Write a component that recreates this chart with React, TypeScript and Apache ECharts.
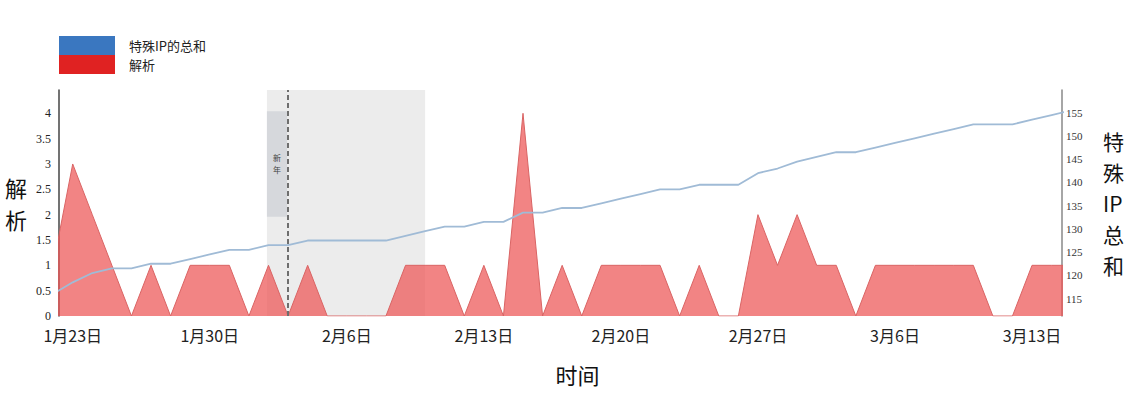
import React, { useEffect, useRef } from "react";
import * as echarts from "echarts";

// Categories: one per day, 1月22日 … 3月15日
const dates = [
  "1月22日", "1月23日", "1月24日", "1月25日", "1月26日", "1月27日", "1月28日", "1月29日", "1月30日", "1月31日",
  "2月1日", "2月2日", "2月3日", "2月4日", "2月5日", "2月6日", "2月7日", "2月8日", "2月9日", "2月10日",
  "2月11日", "2月12日", "2月13日", "2月14日", "2月15日", "2月16日", "2月17日", "2月18日", "2月19日", "2月20日",
  "2月21日", "2月22日", "2月23日", "2月24日", "2月25日", "2月26日", "2月27日", "2月28日", "3月1日", "3月2日",
  "3月3日", "3月4日", "3月5日", "3月6日", "3月7日", "3月8日", "3月9日", "3月10日", "3月11日", "3月12日",
  "3月13日", "3月14日", "3月15日",
];

// 解析 (left axis)
const parseCounts = [
  1, 3, 2, 1, 0, 1, 0, 1, 1, 1,
  0, 1, 0, 1, 0, 0, 0, 0, 1, 1,
  1, 0, 1, 0, 4, 0, 1, 0, 1, 1,
  1, 1, 0, 1, 0, 0, 2, 1, 2, 1,
  1, 0, 1, 1, 1, 1, 1, 1, 0, 0,
  1, 1, 1,
];

// 特殊IP的总和 (right axis)
const ipTotals = [
  116, 118.5, 120.5, 121.5, 121.5, 122.5, 122.5, 123.5, 124.5, 125.5,
  125.5, 126.5, 126.5, 127.5, 127.5, 127.5, 127.5, 127.5, 128.5, 129.5,
  130.5, 130.5, 131.5, 131.5, 133.5, 133.5, 134.5, 134.5, 135.5, 136.5,
  137.5, 138.5, 138.5, 139.5, 139.5, 139.5, 142, 143, 144.5, 145.5,
  146.5, 146.5, 147.5, 148.5, 149.5, 150.5, 151.5, 152.5, 152.5, 152.5,
  153.5, 154.5, 155.5,
];

// Tick labels
const xTickLabels = ["1月23日", "1月30日", "2月6日", "2月13日", "2月20日", "2月27日", "3月6日", "3月13日"];
const leftTicks = [0, 0.5, 1, 1.5, 2, 2.5, 3, 3.5, 4];
const rightTicks = [115, 120, 125, 130, 135, 140, 145, 150, 155];

// New-year period (x in day-index units)
const holidayBand = [10.92, 19];
const holidayLabelBox = [10.92, 11.95, 1.96, 4.04];
const newYearLine = 12;

const SERIF = "'Liberation Serif', 'DejaVu Serif', serif";
const SANS = "'Noto Sans CJK SC', 'Noto Sans', sans-serif";

export default function App() {
  const ref = useRef<HTMLDivElement>(null);

  useEffect(() => {
    if (!ref.current) return;
    const chart = echarts.init(ref.current, null, { renderer: "svg" });
    const xTickIdx = xTickLabels.map((l) => dates.indexOf(l));
    const redData = parseCounts.map((v, i) => [i, v]);
    const blueData = ipTotals.map((v, i) => [i, v]);

    const option: any = {
      animation: false,
      backgroundColor: "#ffffff",
      grid: { left: 59, right: 86, top: 90, bottom: 93, containLabel: false },
      legend: {
        left: 59,
        top: 36,
        orient: "vertical",
        icon: "rect",
        itemWidth: 56,
        itemHeight: 19,
        itemGap: 0,
        padding: 0,
        selectedMode: false,
        textStyle: { fontSize: 13, color: "#222", fontFamily: SANS, padding: [0, 0, 0, 9] },
        data: [
          { name: "特殊IP的总和", itemStyle: { color: "#3a77c0" } },
          { name: "解析", itemStyle: { color: "#e02222" } },
        ],
      },
      xAxis: {
        type: "value",
        min: 0.3,
        max: 51.53,
        axisLine: { show: false },
        axisTick: { show: false },
        splitLine: { show: false },
        axisLabel: {
          customValues: xTickIdx,
          formatter: (v: number) => dates[Math.round(v)],
          fontSize: 16,
          color: "#222",
          fontFamily: SANS,
          margin: 11,
        },
        name: "时间",
        nameLocation: "middle",
        nameGap: 47,
        nameTextStyle: { fontSize: 22, color: "#111", fontFamily: SANS, padding: [0, 0, 0, 34] },
      },
      yAxis: [
        {
          type: "value",
          position: "left",
          min: 0,
          max: 4.46,
          axisLine: { show: true, lineStyle: { color: "#444", width: 1.5 } },
          axisTick: { show: false },
          splitLine: { show: false },
          axisLabel: {
            customValues: leftTicks,
            fontSize: 12,
            color: "#222",
            fontFamily: SERIF,
            margin: 8,
          },
          name: "解\n析",
          nameLocation: "middle",
          nameRotate: 0,
          nameGap: 32,
          nameTextStyle: { fontSize: 22, lineHeight: 32, color: "#111", fontFamily: SANS },
        },
        {
          type: "value",
          position: "right",
          min: 111.25,
          max: 159.9,
          axisLine: { show: true, lineStyle: { color: "#888", width: 1.5 } },
          axisTick: { show: false },
          splitLine: { show: false },
          axisLabel: {
            customValues: rightTicks,
            fontSize: 11,
            color: "#333",
            fontFamily: SERIF,
            margin: 4,
          },
          name: "特\n殊\nIP\n总\n和",
          nameLocation: "middle",
          nameRotate: 0,
          nameGap: 41,
          nameTextStyle: { fontSize: 21, lineHeight: 31, color: "#111", fontFamily: SANS },
        },
      ],
      series: [
        {
          name: "新年",
          type: "line",
          yAxisIndex: 0,
          data: redData,
          showSymbol: false,
          symbol: "none",
          lineStyle: { opacity: 0 },
          silent: true,
          z: 1,
          markArea: {
            silent: true,
            data: [
              [
                { xAxis: holidayBand[0], itemStyle: { color: "#ececec" } },
                { xAxis: holidayBand[1] },
              ],
              [
                {
                  xAxis: holidayLabelBox[0],
                  yAxis: holidayLabelBox[2],
                  itemStyle: { color: "#d6d8dc" },
                  label: {
                    show: true,
                    position: "inside",
                    rotate: 0,
                    formatter: "新\n年",
                    fontSize: 8,
                    lineHeight: 12,
                    color: "#444",
                    fontFamily: SANS,
                  },
                },
                { xAxis: holidayLabelBox[1], yAxis: holidayLabelBox[3] },
              ],
            ],
          },
        },
        {
          name: "解析",
          type: "line",
          yAxisIndex: 0,
          data: redData,
          showSymbol: false,
          symbol: "none",
          z: 2,
          itemStyle: { color: "#e02222" },
          lineStyle: { color: "#d96464", width: 1 },
          areaStyle: { color: "rgba(237, 85, 85, 0.72)", opacity: 1 },
        },
        {
          name: "特殊IP的总和",
          type: "line",
          yAxisIndex: 1,
          data: blueData,
          showSymbol: false,
          symbol: "none",
          z: 3,
          itemStyle: { color: "#3a77c0" },
          lineStyle: { color: "#a0bbd6", width: 1.8 },
          markLine: {
            silent: true,
            symbol: ["none", "none"],
            label: { show: false },
            lineStyle: { type: [5, 3], color: "#6e6e6e", width: 2 },
            data: [{ xAxis: newYearLine }],
          },
        },
      ],
    };
    chart.setOption(option);
    return () => chart.dispose();
  }, []);

  return (
    <div
      ref={ref}
      style={{ position: "fixed", left: 0, top: 0, width: 1148, height: 409, background: "#fff" }}
    />
  );
}
